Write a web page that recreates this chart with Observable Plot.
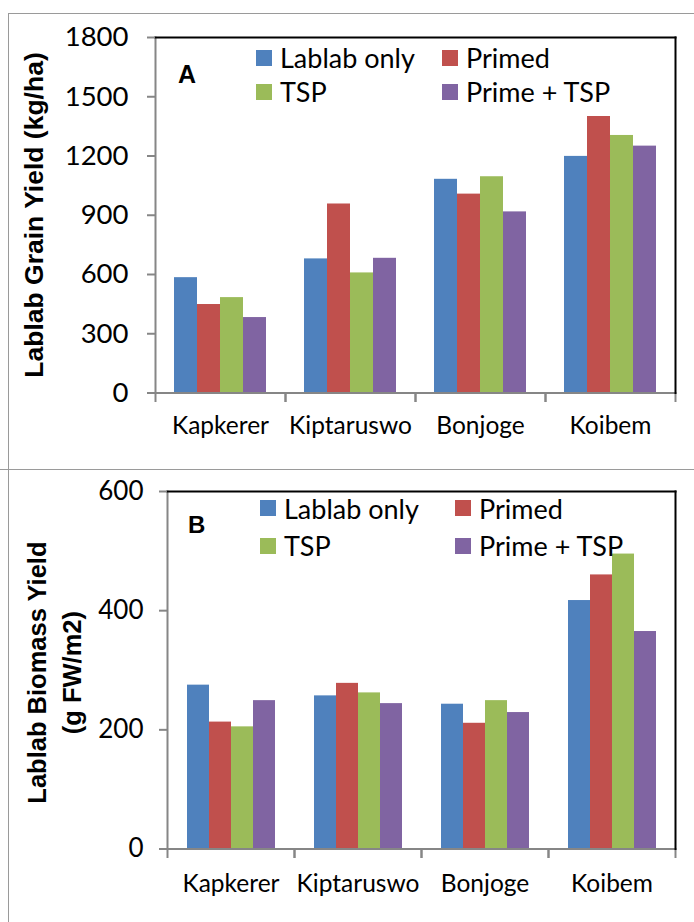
<!DOCTYPE html>
<html><head><meta charset="utf-8">
<script src="https://cdn.jsdelivr.net/npm/d3@7"></script>
<script src="https://cdn.jsdelivr.net/npm/@observablehq/plot@0.6"></script>
<style>
body{margin:0;background:#fff;}
#wrap{position:relative;width:694px;height:922px;overflow:hidden;background:#fff;font-family:Lato,sans-serif;}
.line{position:absolute;background:#9a9a9a;}
.ytitle{position:absolute;font-family:"Liberation Sans",Arial,sans-serif;font-weight:bold;text-align:center;white-space:nowrap;transform:rotate(-90deg);color:#000;}
.letter{position:absolute;font-family:"Liberation Sans",Arial,sans-serif;font-weight:bold;line-height:1;color:#000;}
.legA-swatches,.legB-swatches{display:grid;font-family:Lato,sans-serif;font-size:27px;margin:0;color:#000;}
.legA-swatches{grid-template-columns:186px auto;}
.legB-swatches{grid-template-columns:195px auto;}
.legA-swatch{margin:0;height:34.3px;display:flex;align-items:center;}
.legB-swatch{margin:0;height:37.7px;display:flex;align-items:center;}
.legA-swatch > svg,.legB-swatch > svg{margin-right:8px;}
</style></head><body><div id="wrap"></div>
<script>
// Categories
const sites = ["Kapkerer", "Kiptaruswo", "Bonjoge", "Koibem"];
const treatments = ["Lablab only", "Primed", "TSP", "Prime + TSP"];
const colors = ["#4F81BD", "#C0504D", "#9BBB59", "#8064A2"];

// Panel A: Lablab grain yield (kg/ha), one array per treatment, in site order
const grainLablabOnly = [584, 679, 1082, 1198];
const grainPrimed     = [448, 957, 1007, 1400];
const grainTSP        = [483, 608, 1095, 1304];
const grainPrimeTSP   = [382, 682, 917, 1250];
const grainTicks = [0, 300, 600, 900, 1200, 1500, 1800];

// Panel B: Lablab biomass yield (g FW/m2)
const bioLablabOnly = [275, 257, 243, 417];
const bioPrimed     = [213, 278, 211, 460];
const bioTSP        = [205, 262, 249, 495];
const bioPrimeTSP   = [249, 244, 229, 365];
const bioTicks = [0, 200, 400, 600];

function tidy(series) {
  return treatments.flatMap((t, i) => sites.map((s, j) => ({site: s, treatment: t, value: series[i][j]})));
}
const grainData = tidy([grainLablabOnly, grainPrimed, grainTSP, grainPrimeTSP]);
const bioData = tidy([bioLablabOnly, bioPrimed, bioTSP, bioPrimeTSP]);

const gray = "#868686";

function makeChart({data, ticks, height, mt, mb, ml, mr, padOuter, tickFont, tickPadding, catFont, catPadding}) {
  const ph = height - mt - mb;
  return Plot.plot({
    width: 694, height,
    marginTop: mt, marginBottom: mb, marginLeft: ml, marginRight: mr,
    style: {fontFamily: "Lato, sans-serif", color: "black", background: "transparent", overflow: "visible"},
    fx: {domain: sites, padding: 0, axis: null, label: null},
    x: {domain: treatments, paddingInner: 0, paddingOuter: padOuter, axis: null, label: null},
    y: {domain: [0, ticks[ticks.length - 1]], axis: null, label: null},
    color: {domain: treatments, range: colors},
    marks: [
      Plot.barY(data, {fx: "site", x: "treatment", y: "value", fill: "treatment"}),
      Plot.ruleY([0], {stroke: gray, strokeWidth: 2}),
      Plot.frame({anchor: "left", stroke: gray, strokeWidth: 2, insetTop: ph, insetBottom: -8}),
      Plot.frame({anchor: "right", stroke: gray, strokeWidth: 2, insetTop: ph, insetBottom: -8}),
      Plot.frame({facet: "super", anchor: "left", stroke: gray, strokeWidth: 2}),
      Plot.frame({facet: "super", anchor: "top", stroke: "black", strokeWidth: 2}),
      Plot.frame({facet: "super", anchor: "right", stroke: "black", strokeWidth: 2}),
      Plot.axisY({ticks, tickFormat: (d) => String(d), tickSize: 8, tickPadding, fontSize: tickFont, stroke: gray, strokeWidth: 2, fill: "black", label: null}),
      Plot.axisFx({anchor: "bottom", tickSize: 0, tickPadding: catPadding, fontSize: catFont, fill: "black", label: null})
    ]
  });
}

const wrap = document.getElementById("wrap");
function add(el, css) { Object.assign(el.style, css); wrap.appendChild(el); return el; }
function div(cls, text, css) { const d = document.createElement("div"); d.className = cls; if (text != null) d.textContent = text; return add(d, css); }

// Panel borders
div("line", null, {left: "8px", top: "12.5px", width: "686px", height: "1.6px"});
div("line", null, {left: "7.5px", top: "12.5px", width: "1.6px", height: "910px"});
div("line", null, {left: "0px", top: "468.7px", width: "694px", height: "1.6px"});

// Panel A
const chartA = makeChart({data: grainData, ticks: grainTicks, height: 469, mt: 37, mb: 76.5, ml: 153, mr: 18,
  padOuter: 0.754, tickFont: 27.5, tickPadding: 19, catFont: 24.5, catPadding: 23.5});
add(chartA, {position: "absolute", left: "0px", top: "0px"});

// Panel B
const chartB = makeChart({data: bioData, ticks: bioTicks, height: 453, mt: 22, mb: 73.5, ml: 165, mr: 18,
  padOuter: 0.77, tickFont: 26, tickPadding: 16, catFont: 24.5, catPadding: 25.5});
add(chartB, {position: "absolute", left: "0px", top: "469px"});

// Y-axis titles
div("ytitle", "Lablab Grain Yield (kg/ha)", {left: "-166.2px", top: "199.5px", width: "400px", height: "30px", lineHeight: "30px", fontSize: "26.5px"});
const tB = div("ytitle", null, {left: "-145.5px", top: "638.4px", width: "400px", height: "69.2px", lineHeight: "34.6px", fontSize: "25.5px"});
tB.innerHTML = "Lablab Biomass Yield<br>(g FW/m2)";

// Panel letters
div("letter", "A", {left: "178px", top: "61.7px", fontSize: "25px"});
div("letter", "B", {left: "188px", top: "512.6px", fontSize: "24px"});

// Legends (from each chart's own color scale)
const legA = chartA.legend("color", {swatchSize: 16, className: "legA"});
add(legA, {position: "absolute", left: "256px", top: "40.5px"});
const legB = chartB.legend("color", {swatchSize: 16, className: "legB"});
add(legB, {position: "absolute", left: "260px", top: "489.2px"});
</script>
</body></html>
